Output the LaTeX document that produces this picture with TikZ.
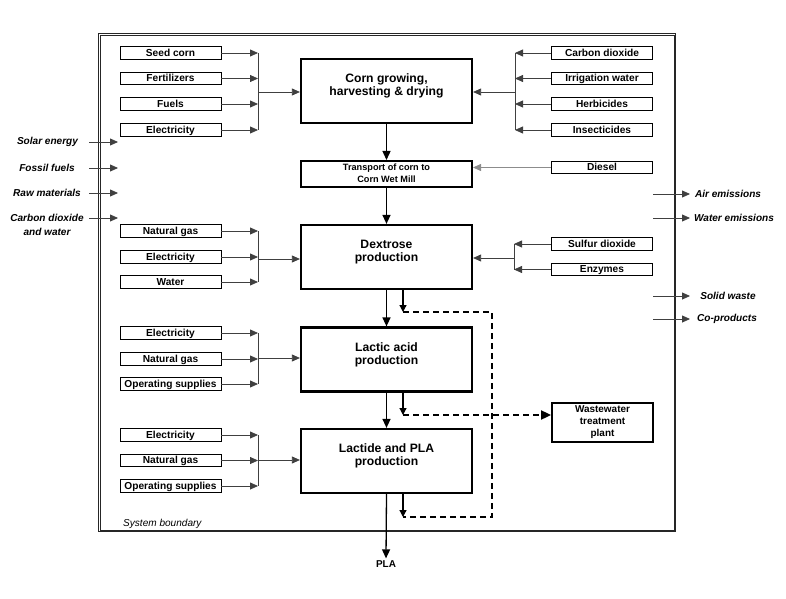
\documentclass[tikz,border=0pt]{standalone}
\usepackage{fontspec}
\setmainfont{Liberation Sans}
\usetikzlibrary{arrows.meta, positioning}

\begin{document}
\begin{tikzpicture}
    [
      x=1bp,
      y=-1bp,
      inbox/.style={rectangle,draw=black,line width=0.9bp,minimum width=101bp,minimum height=12.5bp,inner sep=0pt,text height=8.4bp,text depth=2.2bp,font=\bfseries\fontsize{10.2}{12}\selectfont},
      stage/.style={rectangle,draw=black,line width=2.2bp,minimum width=171bp,minimum height=64bp,inner sep=0pt,align=center,text depth=12bp,font=\bfseries\fontsize{12.2}{13.2}\selectfont},
      tbox/.style={stage,minimum height=26bp,line width=2bp,text depth=2bp,font=\bfseries\fontsize{9.2}{12.5}\selectfont},
      wbox/.style={rectangle,draw=black,line width=1.8bp,minimum width=101bp,minimum height=39bp,inner sep=0pt,align=center,font=\bfseries\fontsize{10}{12}\selectfont},
      outlbl/.style={align=center,inner sep=0pt,font=\bfseries\itshape\fontsize{10.1}{13.5}\selectfont},
      feed/.style={draw=black!75,line width=0.8bp,-{Triangle[length=8bp,width=7bp]}},
      bus/.style={draw=black!75,line width=0.8bp},
      flow/.style={draw=black,line width=1.3bp,-{Triangle[length=9bp,width=8bp]}},
      drain/.style={draw=black,line width=1.2bp,-{Triangle[length=7bp,width=7bp]}},
      waste/.style={draw=black,line width=1.8bp,dash pattern=on 6bp off 4bp},
      bound/.style={draw=black!85,line width=0.9bp},
    ]
    \useasboundingbox (0,0) rectangle (786,599);
    \draw[bound] (98.2,33.2) rectangle (675.8,531.8);
    \draw[bound] (100,35) rectangle (674,530);
    \node at (123,524) [anchor=west,inner sep=0pt,font=\itshape\fontsize{10.1}{12}\selectfont] (sblbl) {System boundary};

    \node at (386.5,91)  [stage] (cg) {Corn growing,\\harvesting \& drying};
    \node at (386.5,174) [tbox] (tr) {Transport of corn to\\Corn Wet Mill};
    \node at (386.5,257) [stage] (dx) {Dextrose\\production};
    \node at (386.5,359.5) [stage] (la) {Lactic acid\\production};
    \node at (386.5,461) [stage] (lp) {Lactide and PLA\\production};
    \node at (602.5,422.5) [wbox] (ww) {Wastewater\\treatment\\plant};
    \node at (386,564) [font=\bfseries\fontsize{10}{12}\selectfont,inner sep=2bp] (pla) {PLA};

    \node at (170.5,53)   [inbox] (sc) {Seed corn};
    \node at (170.5,78.5) [inbox] (fe) {Fertilizers};
    \node at (170.5,104)  [inbox] (fu) {Fuels};
    \node at (170.5,130)  [inbox] (el1) {Electricity};
    \node at (602,53)     [inbox] (co2) {Carbon dioxide};
    \node at (602,78.5)   [inbox] (iw) {Irrigation water};
    \node at (602,104)    [inbox] (he) {Herbicides};
    \node at (602,130)    [inbox] (ins) {Insecticides};
    \node at (602,167.5)  [inbox] (di) {Diesel};
    \node at (170.5,231)  [inbox] (ng2) {Natural gas};
    \node at (170.5,257)  [inbox] (el2) {Electricity};
    \node at (170.5,282)  [inbox] (wa) {Water};
    \node at (602,244)    [inbox] (so) {Sulfur dioxide};
    \node at (602,269.5)  [inbox] (en) {Enzymes};
    \node at (170.5,333)  [inbox] (el3) {Electricity};
    \node at (170.5,359)  [inbox] (ng3) {Natural gas};
    \node at (170.5,384)  [inbox] (os3) {Operating supplies};
    \node at (170.5,435)  [inbox] (el4) {Electricity};
    \node at (170.5,460.5) [inbox] (ng4) {Natural gas};
    \node at (170.5,486)  [inbox] (os4) {Operating supplies};

    \coordinate (bl1) at (258,92);
    \coordinate (br1) at (515,92);
    \coordinate (bl2) at (258,259);
    \coordinate (br2) at (514,258);
    \coordinate (bl3) at (258,358);
    \coordinate (bl4) at (258,460);

    \draw[feed] (sc.east) -- (sc.east -| bl1);
    \draw[feed] (fe.east) -- (fe.east -| bl1);
    \draw[feed] (fu.east) -- (fu.east -| bl1);
    \draw[feed] (el1.east) -- (el1.east -| bl1);
    \draw[bus] (sc.east -| bl1) -- (el1.east -| bl1);
    \draw[feed] (bl1) -- (bl1 -| cg.west);
    \draw[feed] (co2.west) -- (co2.west -| br1);
    \draw[feed] (iw.west) -- (iw.west -| br1);
    \draw[feed] (he.west) -- (he.west -| br1);
    \draw[feed] (ins.west) -- (ins.west -| br1);
    \draw[bus] (co2.west -| br1) -- (ins.west -| br1);
    \draw[feed] (br1) -- (br1 -| cg.east);
    \draw[feed,draw=black!45] (di.west) -- (di.west -| tr.east);

    \draw[feed] (ng2.east) -- (ng2.east -| bl2);
    \draw[feed] (el2.east) -- (el2.east -| bl2);
    \draw[feed] (wa.east) -- (wa.east -| bl2);
    \draw[bus] (ng2.east -| bl2) -- (wa.east -| bl2);
    \draw[feed] (bl2) -- (bl2 -| dx.west);
    \draw[feed] (so.west) -- (so.west -| br2);
    \draw[feed] (en.west) -- (en.west -| br2);
    \draw[bus] (so.west -| br2) -- (en.west -| br2);
    \draw[feed] (br2) -- (br2 -| dx.east);

    \draw[feed] (el3.east) -- (el3.east -| bl3);
    \draw[feed] (ng3.east) -- (ng3.east -| bl3);
    \draw[feed] (os3.east) -- (os3.east -| bl3);
    \draw[bus] (el3.east -| bl3) -- (os3.east -| bl3);
    \draw[feed] (bl3) -- (bl3 -| la.west);

    \draw[feed] (el4.east) -- (el4.east -| bl4);
    \draw[feed] (ng4.east) -- (ng4.east -| bl4);
    \draw[feed] (os4.east) -- (os4.east -| bl4);
    \draw[bus] (el4.east -| bl4) -- (os4.east -| bl4);
    \draw[feed] (bl4) -- (bl4 -| lp.west);

    \draw[flow] (cg.south) -- (tr.north);
    \draw[flow] (tr.south) -- (dx.north);
    \draw[flow] (dx.south) -- (la.north);
    \draw[flow] (la.south) -- (lp.north);
    \draw[flow] (lp.south) -- (pla.north);

    \coordinate (w1) at (403,312);
    \coordinate (w2) at (492,312);
    \coordinate (w3) at (492,517);
    \coordinate (w4) at (403,517);
    \coordinate (w5) at (403,415);
    \draw[drain] (dx.south -| w1) -- (w1);
    \draw[drain] (la.south -| w5) -- (w5);
    \draw[drain] (lp.south -| w4) -- (w4);
    \draw[waste] (w1) -- (w2) -- (w3) -- (w4);
    \draw[waste,-{Triangle[length=10bp,width=9bp]}] (w5) -- (w5 -| ww.west);

    \coordinate (lin) at (89,0);
    \coordinate (lout) at (118,0);
    \coordinate (rin) at (653,0);
    \coordinate (rout) at (690,0);
    \node at (47.5,142) [outlbl] (solar) {Solar energy};
    \node at (47,168)   [outlbl] (fossil) {Fossil fuels};
    \node at (47,193)   [outlbl] (raw) {Raw materials};
    \node at (47,225)   [outlbl] (cdw) {Carbon dioxide\\and water};
    \path (cdw.center) ++(0,-7) coordinate (cdtop);
    \draw[feed] (solar -| lin) -- (solar -| lout);
    \draw[feed] (fossil -| lin) -- (fossil -| lout);
    \draw[feed] (raw -| lin) -- (raw -| lout);
    \draw[feed] (cdtop -| lin) -- (cdtop -| lout);

    \node at (728,194) [outlbl] (air) {Air emissions};
    \node at (734,218) [outlbl] (water) {Water emissions};
    \node at (728,296) [outlbl] (solid) {Solid waste};
    \node at (727,319) [outlbl] (cop) {Co-products};
    \draw[feed] (air -| rin) -- (air -| rout);
    \draw[feed] (water -| rin) -- (water -| rout);
    \draw[feed] (solid -| rin) -- (solid -| rout);
    \draw[feed] (cop -| rin) -- (cop -| rout);
  \end{tikzpicture}
\end{document}
